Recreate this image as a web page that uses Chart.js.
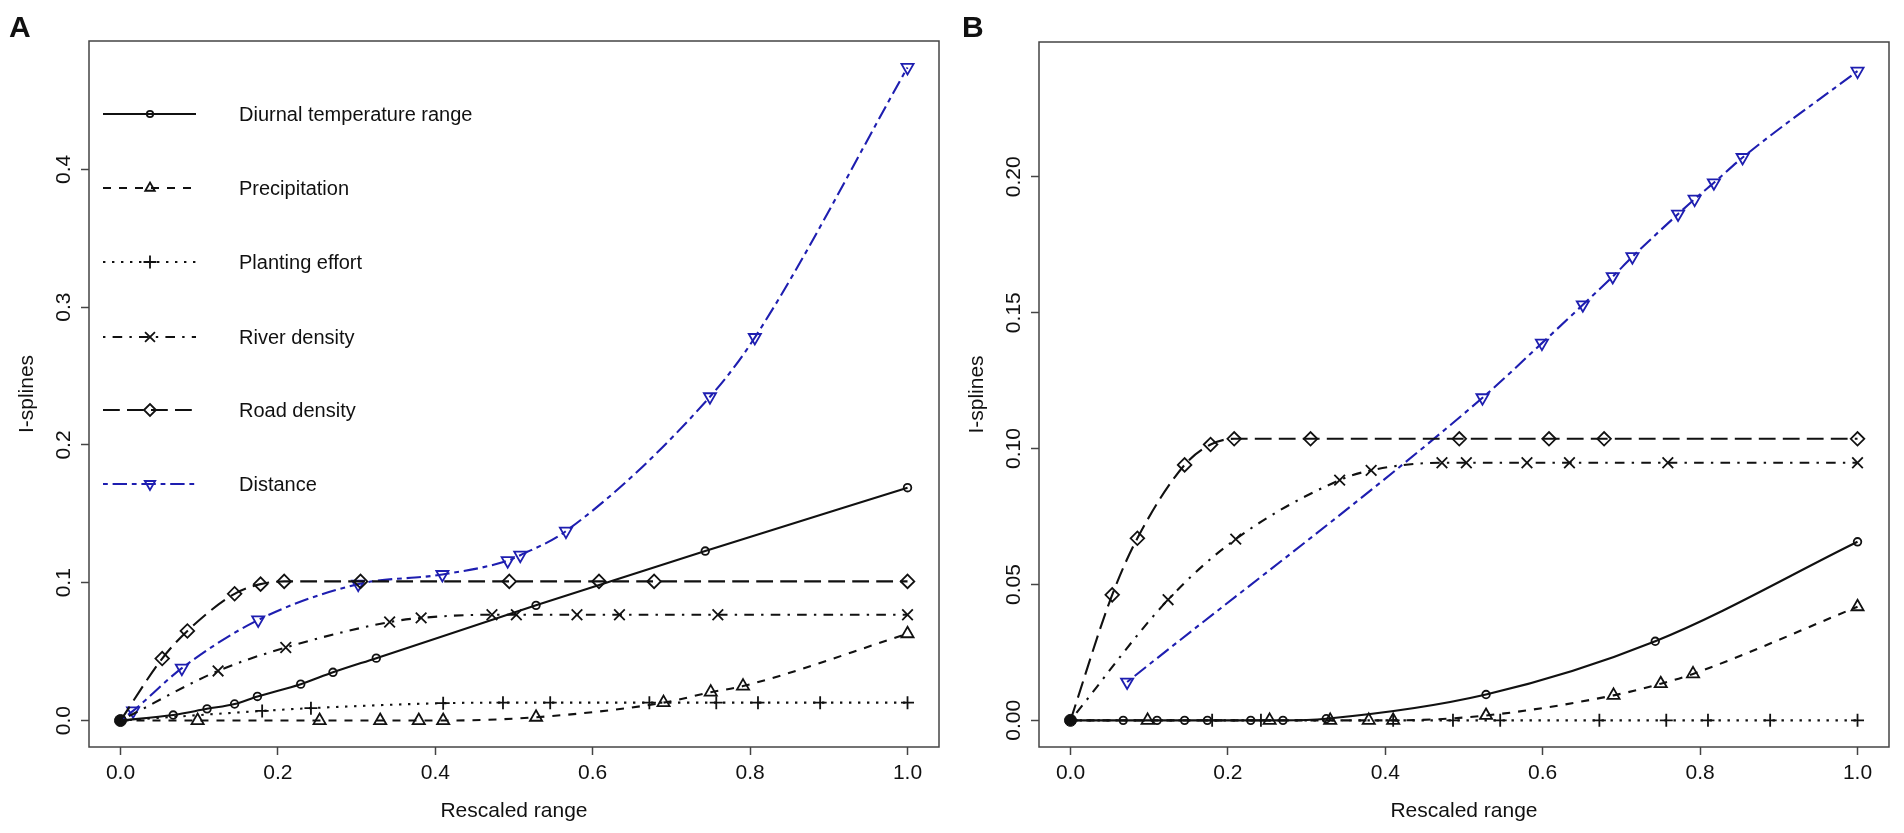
<!DOCTYPE html>
<html>
<head>
<meta charset="utf-8">
<script src="https://cdn.jsdelivr.net/npm/chart.js"></script>
<style>
  body { margin: 0; background: #fff; }
  #wrap { position: relative; width: 1904px; height: 833px; }
  canvas { position: absolute; top: 0; }
  #chartA { left: 0; }
  #chartB { left: 950px; }
</style>
</head>
<body>
<div id="wrap">
  <canvas id="chartA" width="950" height="833"></canvas>
  <canvas id="chartB" width="954" height="833"></canvas>
</div>
<script>
// tick values / labels
var xTicks = [0, 0.2, 0.4, 0.6, 0.8, 1.0];
var xTickLabels = ['0.0', '0.2', '0.4', '0.6', '0.8', '1.0'];
var yTicksA = [0, 0.1, 0.2, 0.3, 0.4];
var yTickLabelsA = ['0.0', '0.1', '0.2', '0.3', '0.4'];
var yTicksB = [0, 0.05, 0.10, 0.15, 0.20];
var yTickLabelsB = ['0.00', '0.05', '0.10', '0.15', '0.20'];

var seriesNames = ['Diurnal temperature range', 'Precipitation', 'Planting effort', 'River density', 'Road density', 'Distance'];

// rescaled range positions of the markers
var diurnalX = [0, 0.067, 0.110, 0.145, 0.174, 0.229, 0.270, 0.325, 0.528, 0.743, 1.0];
var precipX  = [0, 0.098, 0.253, 0.330, 0.379, 0.410, 0.528, 0.690, 0.750, 0.791, 1.0];
var plantX   = [0, 0.180, 0.242, 0.410, 0.486, 0.546, 0.672, 0.757, 0.810, 0.889, 1.0];
var riverX   = [0, 0.124, 0.210, 0.342, 0.382, 0.472, 0.503, 0.580, 0.634, 0.759, 1.0];
var roadX    = [0, 0.053, 0.085, 0.145, 0.178, 0.208, 0.305, 0.494, 0.608, 0.678, 1.0];
var distAX   = [0, 0.016, 0.078, 0.175, 0.302, 0.409, 0.492, 0.508, 0.566, 0.749, 0.806, 1.0];
var distBX   = [0.072, 0.5235, 0.599, 0.651, 0.689, 0.714, 0.772, 0.793, 0.8175, 0.854, 1.0];

// panel A I-spline values
var diurnalA = [0, 0.004, 0.0085, 0.012, 0.0175, 0.0264, 0.035, 0.0453, 0.0836, 0.123, 0.169];
var precipA  = [0, 0, 0, 0, 0, 0, 0.0024, 0.013, 0.0206, 0.025, 0.063];
var plantA   = [0, 0.007, 0.009, 0.0126, 0.013, 0.013, 0.013, 0.013, 0.013, 0.013, 0.013];
var riverA   = [0, 0.036, 0.053, 0.0715, 0.0745, 0.0768, 0.0768, 0.0768, 0.0768, 0.0768, 0.0768];
var roadA    = [0, 0.045, 0.065, 0.092, 0.099, 0.101, 0.101, 0.101, 0.101, 0.101, 0.101];
var distA    = [0, 0.007, 0.038, 0.073, 0.099, 0.106, 0.116, 0.120, 0.1375, 0.235, 0.278, 0.474];

// panel B I-spline values
var diurnalB = [0, 0, 0, 0, 0, 0, 0, 0.0006, 0.0095, 0.0291, 0.0657];
var precipB  = [0, 0, 0, 0, 0, 0, 0.0018, 0.0092, 0.0135, 0.0171, 0.0418];
var plantB   = [0, 0, 0, 0, 0, 0, 0, 0, 0, 0, 0];
var riverB   = [0, 0.0444, 0.0667, 0.0884, 0.092, 0.0948, 0.0948, 0.0948, 0.0948, 0.0948, 0.0948];
var roadB    = [0, 0.0462, 0.067, 0.094, 0.1015, 0.1036, 0.1036, 0.1036, 0.1036, 0.1036, 0.1036];
var distB    = [0.0141, 0.1187, 0.1388, 0.1529, 0.1633, 0.1706, 0.1863, 0.1918, 0.1978, 0.2071, 0.2389];

var FONT = '"Liberation Sans", Arial, Helvetica, sans-serif';
var BLUE = '#1e1eb0';
var INK = '#111';

// line type / symbol per series (R lty 1..6, pch 1,2,3,4,5,6)
var styles = [
  { color: INK,  dash: [],                   point: 'circle',   r: 3.8, lr: 3.2, rot: 0 },
  { color: INK,  dash: [8, 8],               point: 'triangle', r: 7,   lr: 5.5, rot: 0 },
  { color: INK,  dash: [2.4, 6.6],           point: 'cross',    r: 6.5, lr: 6.5, rot: 0 },
  { color: INK,  dash: [2.4, 7.2, 9.6, 7.2], point: 'crossRot', r: 7.5, lr: 7,   rot: 0 },
  { color: INK,  dash: [16.8, 7.2],          point: 'rectRot',  r: 6.8, lr: 6,   rot: 0 },
  { color: BLUE, dash: [4.8, 4.8, 14.4, 4.8], point: 'triangle', r: 7,  lr: 6,   rot: 180 }
];

function pts(xs, ys) {
  return xs.map(function (x, i) { return { x: x, y: ys[i] }; });
}

function makeSet(name, xs, ys, st) {
  return {
    label: name,
    data: pts(xs, ys),
    borderColor: st.color,
    borderWidth: 2.1,
    borderDash: st.dash,
    cubicInterpolationMode: 'monotone',
    fill: false,
    pointStyle: st.point,
    pointRotation: st.rot,
    pointRadius: function (c) { return (c.raw && c.raw.x === 0) ? 0 : st.r; },
    pointBorderColor: st.color,
    pointBackgroundColor: 'rgba(0,0,0,0)',
    pointBorderWidth: 1.8
  };
}

function originSet() {
  return {
    label: 'origin',
    data: [{ x: 0, y: 0 }],
    showLine: false,
    pointStyle: 'circle',
    pointRadius: 6,
    pointBackgroundColor: INK,
    pointBorderColor: INK,
    pointBorderWidth: 1
  };
}

function panelPlugin(letter, letterX, yLabels, withLegend) {
  return {
    id: 'panel' + letter,
    afterDraw: function (chart) {
      var ctx = chart.ctx;
      var a = chart.chartArea;
      var ys = chart.scales.y;
      ctx.save();
      // box
      ctx.strokeStyle = '#444';
      ctx.lineWidth = 1.5;
      ctx.setLineDash([]);
      ctx.strokeRect(a.left, a.top, a.right - a.left, a.bottom - a.top);

      // y tick labels (rotated, like R las=0)
      ctx.fillStyle = INK;
      ctx.font = '21px ' + FONT;
      ctx.textAlign = 'center';
      ctx.textBaseline = 'alphabetic';
      ys.ticks.forEach(function (t, i) {
        var py = ys.getPixelForValue(t.value);
        ctx.save();
        ctx.translate(a.left - 19, py);
        ctx.rotate(-Math.PI / 2);
        ctx.fillText(yLabels[i], 0, 0);
        ctx.restore();
      });

      // axis titles
      ctx.font = '21px ' + FONT;
      ctx.fillText('Rescaled range', (a.left + a.right) / 2, 817);
      ctx.save();
      ctx.translate(33, (a.top + a.bottom) / 2);
      ctx.rotate(-Math.PI / 2);
      ctx.fillText('I-splines', 0, 0);
      ctx.restore();

      // panel letter
      ctx.textAlign = 'left';
      ctx.font = 'bold 30px ' + FONT;
      ctx.fillText(letter, letterX, 37);

      if (withLegend) {
        var rows = [114, 188, 262, 337, 410, 484];
        styles.forEach(function (st, i) {
          var y = rows[i];
          ctx.strokeStyle = st.color;
          ctx.lineWidth = 2.1;
          ctx.setLineDash(st.dash);
          ctx.beginPath();
          ctx.moveTo(103, y);
          ctx.lineTo(196, y);
          ctx.stroke();
          ctx.setLineDash([]);
          ctx.lineWidth = 1.8;
          ctx.fillStyle = 'rgba(0,0,0,0)';
          if (Chart.helpers && Chart.helpers.drawPoint) {
            Chart.helpers.drawPoint(ctx, { pointStyle: st.point, rotation: st.rot, radius: st.lr, borderWidth: 1.8 }, 150, y);
          }
          ctx.fillStyle = INK;
          ctx.font = '20px ' + FONT;
          ctx.fillText(seriesNames[i], 239, y + 7);
        });
      }
      ctx.restore();
    }
  };
}

function makeOptions(yMin, yMax, yTicks, padRight, padTop) {
  return {
    responsive: false,
    animation: false,
    events: [],
    layout: { padding: { left: 0, top: padTop, right: padRight, bottom: 0 } },
    plugins: { legend: { display: false }, tooltip: { enabled: false } },
    scales: {
      x: {
        type: 'linear',
        min: -0.04,
        max: 1.04,
        afterBuildTicks: function (s) { s.ticks = xTicks.map(function (v) { return { value: v }; }); },
        afterFit: function (s) { s.height = 86; },
        grid: { drawOnChartArea: false, drawTicks: true, tickLength: 8, tickColor: '#444', tickWidth: 1.5 },
        border: { display: false },
        ticks: {
          autoSkip: false, maxRotation: 0, padding: 6, color: INK,
          font: { family: FONT, size: 21 },
          callback: function (v, i) { return xTickLabels[i]; }
        }
      },
      y: {
        type: 'linear',
        min: yMin,
        max: yMax,
        afterBuildTicks: function (s) { s.ticks = yTicks.map(function (v) { return { value: v }; }); },
        afterFit: function (s) { s.width = 89; },
        grid: { drawOnChartArea: false, drawTicks: true, tickLength: 8, tickColor: '#444', tickWidth: 1.5 },
        border: { display: false },
        ticks: { display: false }
      }
    }
  };
}

new Chart(document.getElementById('chartA'), {
  type: 'line',
  data: {
    datasets: [
      makeSet(seriesNames[0], diurnalX, diurnalA, styles[0]),
      makeSet(seriesNames[1], precipX, precipA, styles[1]),
      makeSet(seriesNames[2], plantX, plantA, styles[2]),
      makeSet(seriesNames[3], riverX, riverA, styles[3]),
      makeSet(seriesNames[4], roadX, roadA, styles[4]),
      makeSet(seriesNames[5], distAX, distA, styles[5]),
      originSet()
    ]
  },
  options: makeOptions(-0.0192, 0.4932, yTicksA, 11, 41),
  plugins: [panelPlugin('A', 9, yTickLabelsA, true)]
});

new Chart(document.getElementById('chartB'), {
  type: 'line',
  data: {
    datasets: [
      makeSet(seriesNames[0], diurnalX, diurnalB, styles[0]),
      makeSet(seriesNames[1], precipX, precipB, styles[1]),
      makeSet(seriesNames[2], plantX, plantB, styles[2]),
      makeSet(seriesNames[3], riverX, riverB, styles[3]),
      makeSet(seriesNames[4], roadX, roadB, styles[4]),
      makeSet(seriesNames[5], distBX, distB, styles[5]),
      originSet()
    ]
  },
  options: makeOptions(-0.0098, 0.2496, yTicksB, 15, 42),
  plugins: [panelPlugin('B', 12, yTickLabelsB, false)]
});
</script>
</body>
</html>
